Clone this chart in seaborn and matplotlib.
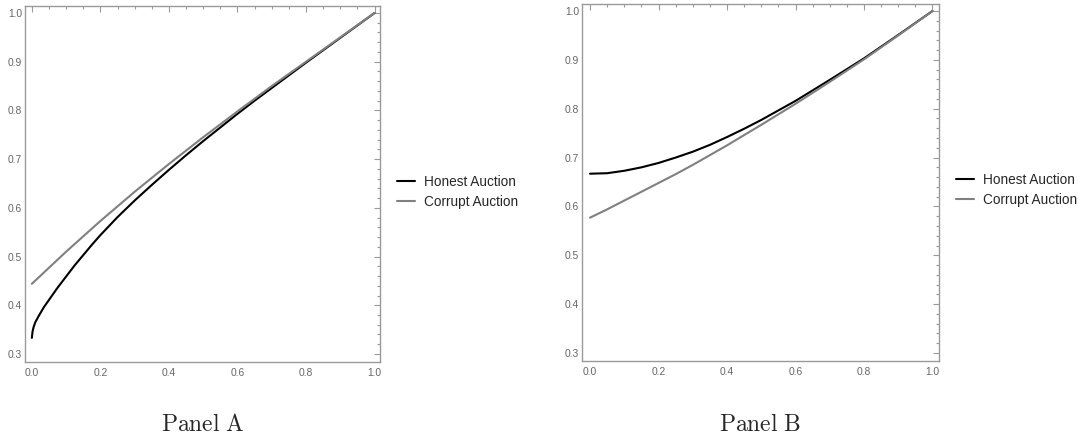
import numpy as np
import pandas as pd
import matplotlib
matplotlib.use("Agg")
import matplotlib.pyplot as plt
from matplotlib.ticker import MultipleLocator
import seaborn as sns

# ---- data ----
a_honest_x = [0.0, 0.002, 0.005, 0.01, 0.02, 0.035, 0.05, 0.075, 0.1, 0.125, 0.15, 0.175,
              0.2, 0.25, 0.3, 0.35, 0.4, 0.45, 0.5, 0.55, 0.6, 0.65, 0.7, 0.8, 0.9, 1.0]
a_honest_y = [0.333, 0.346, 0.355, 0.365, 0.378, 0.396, 0.411, 0.436, 0.459, 0.482, 0.503, 0.524,
              0.544, 0.581, 0.615, 0.647, 0.678, 0.708, 0.737, 0.765, 0.793, 0.820, 0.846,
              0.898, 0.949, 1.0]
a_corrupt_x = [0.0, 0.1, 0.2, 0.3, 0.4, 0.5, 0.6, 0.7, 0.8, 0.9, 1.0]
a_corrupt_y = [0.444, 0.510, 0.573, 0.633, 0.690, 0.745, 0.798, 0.850, 0.900, 0.950, 1.0]

b_x = [0.0, 0.05, 0.1, 0.15, 0.2, 0.25, 0.3, 0.35, 0.4, 0.45, 0.5, 0.6, 0.7, 0.8, 0.9, 1.0]
b_honest_y = [0.667, 0.668, 0.673, 0.680, 0.689, 0.700, 0.712, 0.726, 0.742, 0.759, 0.777,
              0.816, 0.859, 0.903, 0.951, 1.0]
b_corrupt_y = [0.577, 0.594, 0.612, 0.630, 0.648, 0.666, 0.685, 0.705, 0.725, 0.746, 0.767,
               0.810, 0.855, 0.901, 0.950, 1.0]

series_names = ["Honest Auction", "Corrupt Auction"]
panel_titles = ["Panel A", "Panel B"]
x_ticks = [0.0, 0.2, 0.4, 0.6, 0.8, 1.0]
y_ticks = [0.3, 0.4, 0.5, 0.6, 0.7, 0.8, 0.9, 1.0]

df_a = pd.concat([
    pd.DataFrame({"x": a_honest_x, "y": a_honest_y, "series": series_names[0]}),
    pd.DataFrame({"x": a_corrupt_x, "y": a_corrupt_y, "series": series_names[1]}),
])
df_b = pd.concat([
    pd.DataFrame({"x": b_x, "y": b_honest_y, "series": series_names[0]}),
    pd.DataFrame({"x": b_x, "y": b_corrupt_y, "series": series_names[1]}),
])

sns.set_style("white")
plt.rcParams["font.family"] = ["Liberation Sans", "DejaVu Sans"]
plt.rcParams["mathtext.fontset"] = "cm"

palette = {series_names[0]: "#000000", series_names[1]: "#808080"}
spine_col = "#9a9a9a"
tick_label_col = "#666666"

fig = plt.figure(figsize=(10.84, 4.48), dpi=100)
ax_a = fig.add_axes([25 / 1084, 86 / 448, 355 / 1084, 356 / 448])
ax_b = fig.add_axes([582 / 1084, 87 / 448, 357 / 1084, 357 / 448])

panels = [
    (ax_a, df_a, (-0.02, 1.016), (0.2835, 1.0144), (397 / 1084, 1 - 192 / 448), 203),
    (ax_b, df_b, (-0.0234, 1.019), (0.2837, 1.0143), (956 / 1084, 1 - 190 / 448), 760),
]

for i, (ax, df, xl, yl, leg_pos, title_x) in enumerate(panels):
    sns.lineplot(data=df, x="x", y="y", hue="series", palette=palette,
                 hue_order=series_names, ax=ax, linewidth=1.5, sort=True,
                 estimator=None)
    ax.set_xlim(*xl)
    ax.set_ylim(*yl)
    ax.set_xlabel("")
    ax.set_ylabel("")
    ax.set_xticks(x_ticks)
    ax.set_yticks(y_ticks)
    ax.set_xticklabels([f"{t:.1f}" for t in x_ticks])
    ax.set_yticklabels([f"{t:.1f}" for t in y_ticks])
    ax.xaxis.set_minor_locator(MultipleLocator(0.05))
    ax.yaxis.set_minor_locator(MultipleLocator(0.02))
    ax.tick_params(which="both", direction="in", top=True, right=True,
                   color=spine_col, width=0.8)
    ax.tick_params(which="major", length=4.5, labelsize=7.4,
                   labelcolor=tick_label_col)
    ax.tick_params(which="minor", length=2.5)
    ax.tick_params(axis="x", which="major", pad=4)
    ax.tick_params(axis="y", which="major", pad=2)
    for s in ax.spines.values():
        s.set_visible(True)
        s.set_color(spine_col)
        s.set_linewidth(1.0)
    handles, labels = ax.get_legend_handles_labels()
    ax.get_legend().remove()
    fig.legend(handles, labels, loc="center left", bbox_to_anchor=leg_pos,
               frameon=False, fontsize=9.8, handlelength=1.35,
               handletextpad=0.6, labelspacing=0.45, borderpad=0,
               borderaxespad=0)
    fig.text(title_x / 1084, 1 - 425 / 448, r"$\mathrm{" + panel_titles[i].replace(" ", r"\ ") + "}$",
             ha="center", va="center", fontsize=17)

fig.savefig("out.png", dpi=100)
